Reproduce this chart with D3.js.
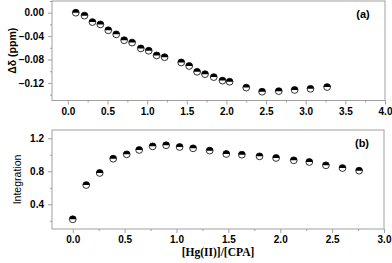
<!DOCTYPE html>
<html>
<head>
<meta charset="utf-8">
<script src="https://cdn.jsdelivr.net/npm/d3@7"></script>
<style>
  body { margin: 0; background: #fff; }
  svg { display: block; }
  .tick text { font-family: Arial, "Liberation Sans", sans-serif; font-weight: bold; font-size: 10px; fill: #000; }
</style>
</head>
<body>
<div id="chart"></div>
<script>
// panel (a): chemical shift change
var ratioA = [0.10, 0.21, 0.31, 0.41, 0.51, 0.61, 0.71, 0.81, 0.92, 1.02, 1.12, 1.22,
    1.43, 1.53, 1.63, 1.73, 1.84, 1.95, 2.04, 2.25, 2.45, 2.66, 2.86, 3.06, 3.27];
var shiftA = [0.000, -0.005, -0.016, -0.020, -0.030, -0.037, -0.047, -0.051, -0.061, -0.065, -0.073, -0.076,
    -0.085, -0.091, -0.101, -0.105, -0.110, -0.116, -0.118, -0.128, -0.135, -0.134, -0.132, -0.130, -0.127];

// panel (b): integration
var ratioB = [0.00, 0.13, 0.26, 0.39, 0.52, 0.64, 0.77, 0.90, 1.03, 1.16,
    1.32, 1.48, 1.63, 1.80, 1.96, 2.13, 2.28, 2.44, 2.60, 2.76];
var integB = [0.218, 0.633, 0.779, 0.952, 1.005, 1.058, 1.102, 1.115, 1.094, 1.078,
    1.050, 1.009, 1.001, 0.981, 0.961, 0.933, 0.912, 0.872, 0.839, 0.807];

var ticksXA = [0, 0.5, 1, 1.5, 2, 2.5, 3, 3.5, 4];
var ticksYA = [0, -0.04, -0.08, -0.12];
var ticksXB = [0, 0.5, 1, 1.5, 2, 2.5, 3];
var ticksYB = [0.4, 0.8, 1.2];

var W = 392, H = 263;
var frameColor = "#a0a0a0";

var svg = d3.select("#chart")
    .append("svg")
    .attr("width", W)
    .attr("height", H);

function panel(opt) {
    var x = d3.scaleLinear().domain(opt.xdom).range([opt.left, opt.right]);
    var y = d3.scaleLinear().domain(opt.ydom).range([opt.bottom, opt.top]);

    var g = svg.append("g");

    // minor ticks
    g.append("g")
        .attr("transform", "translate(0," + opt.bottom + ")")
        .call(d3.axisBottom(x).tickValues(opt.xminor).tickSize(2).tickFormat(""))
        .call(styleAxis);
    g.append("g")
        .attr("transform", "translate(" + opt.left + ",0)")
        .call(d3.axisLeft(y).tickValues(opt.yminor).tickSize(2).tickFormat(""))
        .call(styleAxis);

    // major ticks
    var xa = g.append("g")
        .attr("transform", "translate(0," + opt.bottom + ")")
        .call(d3.axisBottom(x).tickValues(opt.xticks).tickSize(4).tickPadding(3)
            .tickFormat(d3.format(".1f")))
        .call(styleAxis);
    var ya = g.append("g")
        .attr("transform", "translate(" + opt.left + ",0)")
        .call(d3.axisLeft(y).tickValues(opt.yticks).tickSize(4).tickPadding(4)
            .tickFormat(d3.format(opt.yfmt)))
        .call(styleAxis);

    // frame
    g.append("rect")
        .attr("x", opt.left)
        .attr("y", opt.top)
        .attr("width", opt.right - opt.left)
        .attr("height", opt.bottom - opt.top)
        .attr("fill", "none")
        .attr("stroke", frameColor)
        .attr("stroke-width", 1);

    // half-filled markers
    var r = 3.4;
    var pts = g.selectAll("g.pt")
        .data(opt.xs.map(function(d, i) { return [d, opt.ys[i]]; }))
        .enter()
        .append("g")
        .attr("class", "pt")
        .attr("transform", function(d) {
            return "translate(" + x(d[0]) + "," + y(d[1]) + ")";
        });
    pts.append("circle")
        .attr("r", r)
        .attr("fill", "#fff")
        .attr("stroke", "#000")
        .attr("stroke-width", 0.8);
    pts.append("path")
        .attr("d", "M" + (-r) + ",0 A" + r + "," + r + " 0 0 1 " + r + ",0 Z")
        .attr("fill", "#000");

    // panel label
    g.append("text")
        .attr("x", opt.right - 22)
        .attr("y", opt.top + 17)
        .attr("text-anchor", "middle")
        .style("font-family", "Arial, 'Liberation Sans', sans-serif")
        .style("font-weight", "bold")
        .style("font-size", "11px")
        .text(opt.label);

    // y title
    g.append("text")
        .attr("transform", "translate(" + opt.ytx + "," + ((opt.top + opt.bottom) / 2) + ")rotate(-90)")
        .attr("text-anchor", "middle")
        .style("font-family", "Arial, 'Liberation Sans', sans-serif")
        .style("font-weight", opt.yweight)
        .style("font-size", "10.5px")
        .text(opt.ytitle);

    return g;
}

function styleAxis(a) {
    a.select(".domain").remove();
    a.selectAll(".tick line").attr("stroke", frameColor);
}

function range(a, b, s) {
    var out = [];
    for (var v = a; v <= b + 1e-9; v += s) out.push(+v.toFixed(4));
    return out;
}

panel({
    xs: ratioA, ys: shiftA,
    xdom: [-0.2, 4.0], ydom: [-0.15, 0.02],
    left: 52, right: 385, top: 1, bottom: 100.5,
    xticks: ticksXA, xminor: range(-0.25, 4, 0.25).filter(function(v) { return v >= -0.2 && v * 4 % 2 !== 0; }),
    yticks: ticksYA, yminor: [0.02, -0.02, -0.06, -0.10, -0.14],
    yfmt: ".2f",
    label: "(a)",
    ytitle: "\u0394\u03b4 (ppm)", ytx: 16, yweight: "bold"
});

panel({
    xs: ratioB, ys: integB,
    xdom: [-0.2, 3.0], ydom: [0.1, 1.3],
    left: 52, right: 384, top: 130, bottom: 229,
    xticks: ticksXB, xminor: [0.25, 0.75, 1.25, 1.75, 2.25, 2.75],
    yticks: ticksYB, yminor: [0.2, 0.6, 1.0],
    yfmt: ".1f",
    label: "(b)",
    ytitle: "Integration", ytx: 21, yweight: "normal"
});

// shared x title
svg.append("text")
    .attr("x", 218)
    .attr("y", 256)
    .attr("text-anchor", "middle")
    .style("font-family", "'Liberation Serif', 'Times New Roman', serif")
    .style("font-weight", "bold")
    .style("font-size", "11.5px")
    .text("[Hg(II)]/[CPA]");
</script>
</body>
</html>
